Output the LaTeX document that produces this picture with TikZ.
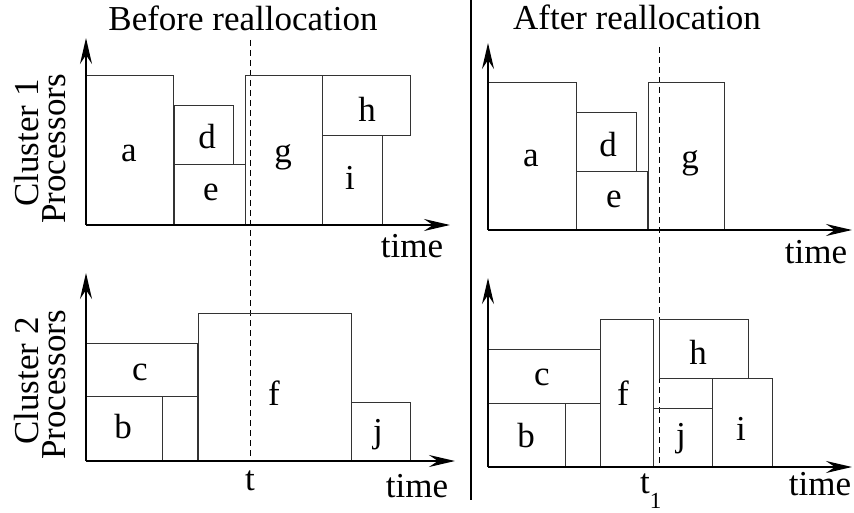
\documentclass[tikz,border=0pt]{standalone}
\usepackage{fontspec}
\setmainfont{Liberation Serif}
\usetikzlibrary{arrows.meta}
\tikzset{
  job/.style={draw=black!80, line width=1pt},
  axis/.style={line width=2pt, -{Stealth[length=26pt,width=12pt,inset=9pt]}},
  lbl/.style={font=\fontsize{35}{40}\selectfont, inner sep=0pt},
  title/.style={font=\fontsize{35}{40}\selectfont, inner sep=0pt, anchor=base},
  ylbl/.style={font=\fontsize{35}{40}\selectfont, inner sep=0pt, rotate=90, anchor=base},
  guide/.style={dash pattern=on 6pt off 4pt, line width=0.8pt},
  divider/.style={line width=2pt},
}
\begin{document}
\begin{tikzpicture}[x=1pt,y=-1pt]
\useasboundingbox (0,0) rectangle (854,513);

% ---------- titles ----------
\node[title] (tbefore) at (243,31) {Before reallocation};
\node[title] (tafter) at (637,30) {After reallocation};

% ---------- y-axis labels ----------
\node[ylbl] (cl1) at (38,143) {Cluster 1};
\node[ylbl] (pr1) at (65,149) {Processors};
\node[ylbl] (cl2) at (38,381) {Cluster 2};
\node[ylbl] (pr2) at (65,385) {Processors};

% ---------- divider ----------
\coordinate (divtop) at (471,0);
\coordinate (divbot) at (471,500);
\draw[divider] (divtop) -- (divbot);

% ---------- dashed guides ----------
\coordinate (gLt) at (250,40);
\coordinate (gLb) at (250,462);
\coordinate (gRt) at (659,47);
\coordinate (gRb) at (659,465);
\draw[guide] (gLt) -- (gLb);
\draw[guide] (gRt) -- (gRb);

% ---------- left top jobs ----------
\draw[job] (86,76) rectangle (173,225);
\draw[job] (174,106) rectangle (233,165);
\draw[job] (174,165) rectangle (245,225);
\draw[job] (245,76) rectangle (322,225);
\draw[job] (322,76) rectangle (410,136);
\draw[job] (322,136) rectangle (382,225);
\node[lbl] (la) at (129,153) {a};
\node[lbl] (ld) at (207,137) {d};
\node[lbl] (le) at (211,192) {e};
\node[lbl] (lg) at (283,157) {g};
\node[lbl] (lh) at (367,109) {h};
\node[lbl] (li) at (350,178) {i};

% ---------- left bottom jobs ----------
\draw[job] (86,343) rectangle (197,396);
\draw[job] (86,396) rectangle (162,461);
\draw[job] (162,396) rectangle (197,461);
\draw[job] (198,313) rectangle (351,461);
\draw[job] (351,402) rectangle (410,461);
\node[lbl] (lc) at (140,372) {c};
\node[lbl] (lb) at (123,427) {b};
\node[lbl] (lf) at (274,393) {f};
\node[lbl] (lj) at (378,435) {j};

% ---------- right top jobs ----------
\draw[job] (488,83) rectangle (576,230);
\draw[job] (576,113) rectangle (636,172);
\draw[job] (576,172) rectangle (647,230);
\draw[job] (648,83) rectangle (724,230);
\node[lbl] (ra) at (531,158) {a};
\node[lbl] (rd) at (608,145) {d};
\node[lbl] (re) at (614,199) {e};
\node[lbl] (rg) at (690,163) {g};

% ---------- right bottom jobs ----------
\draw[job] (488,349) rectangle (600,403);
\draw[job] (488,403) rectangle (565,467);
\draw[job] (565,403) rectangle (600,467);
\draw[job] (600,319) rectangle (653,467);
\draw[job] (659,319) rectangle (748,378);
\draw[job] (653,408) rectangle (712,467);
\draw[job] (712,378) rectangle (772,467);
\node[lbl] (rc) at (542,377) {c};
\node[lbl] (rb) at (526,436) {b};
\node[lbl] (rf) at (623,393) {f};
\node[lbl] (rh) at (698,352) {h};
\node[lbl] (rj) at (681,439) {j};
\node[lbl] (ri) at (741,429) {i};

% ---------- axes ----------
\coordinate (o1) at (86,225);  \coordinate (y1) at (86,38);  \coordinate (x1) at (450,225);
\coordinate (o2) at (86,461);  \coordinate (y2) at (86,273); \coordinate (x2) at (455,461);
\coordinate (o3) at (488,230); \coordinate (y3) at (488,43); \coordinate (x3) at (852,230);
\coordinate (o4) at (488,467); \coordinate (y4) at (488,278);\coordinate (x4) at (852,467);
\draw[axis] (o1) -- (y1);
\draw[axis] (o1) -- (x1);
\draw[axis] (o2) -- (y2);
\draw[axis] (o2) -- (x2);
\draw[axis] (o3) -- (y3);
\draw[axis] (o3) -- (x3);
\draw[axis] (o4) -- (y4);
\draw[axis] (o4) -- (x4);

% ---------- time labels ----------
\node[title] (time1) at (412,258) {time};
\node[title] (time2) at (417,497) {time};
\node[title] (time3) at (816,263) {time};
\node[title] (time4) at (820,495) {time};
\node[title] (tt) at (250,490) {t};
\node[title, anchor=base west] (tt1) at (640,493) {t\raisebox{-15pt}{\fontsize{23}{23}\selectfont 1}};
\end{tikzpicture}
\end{document}
